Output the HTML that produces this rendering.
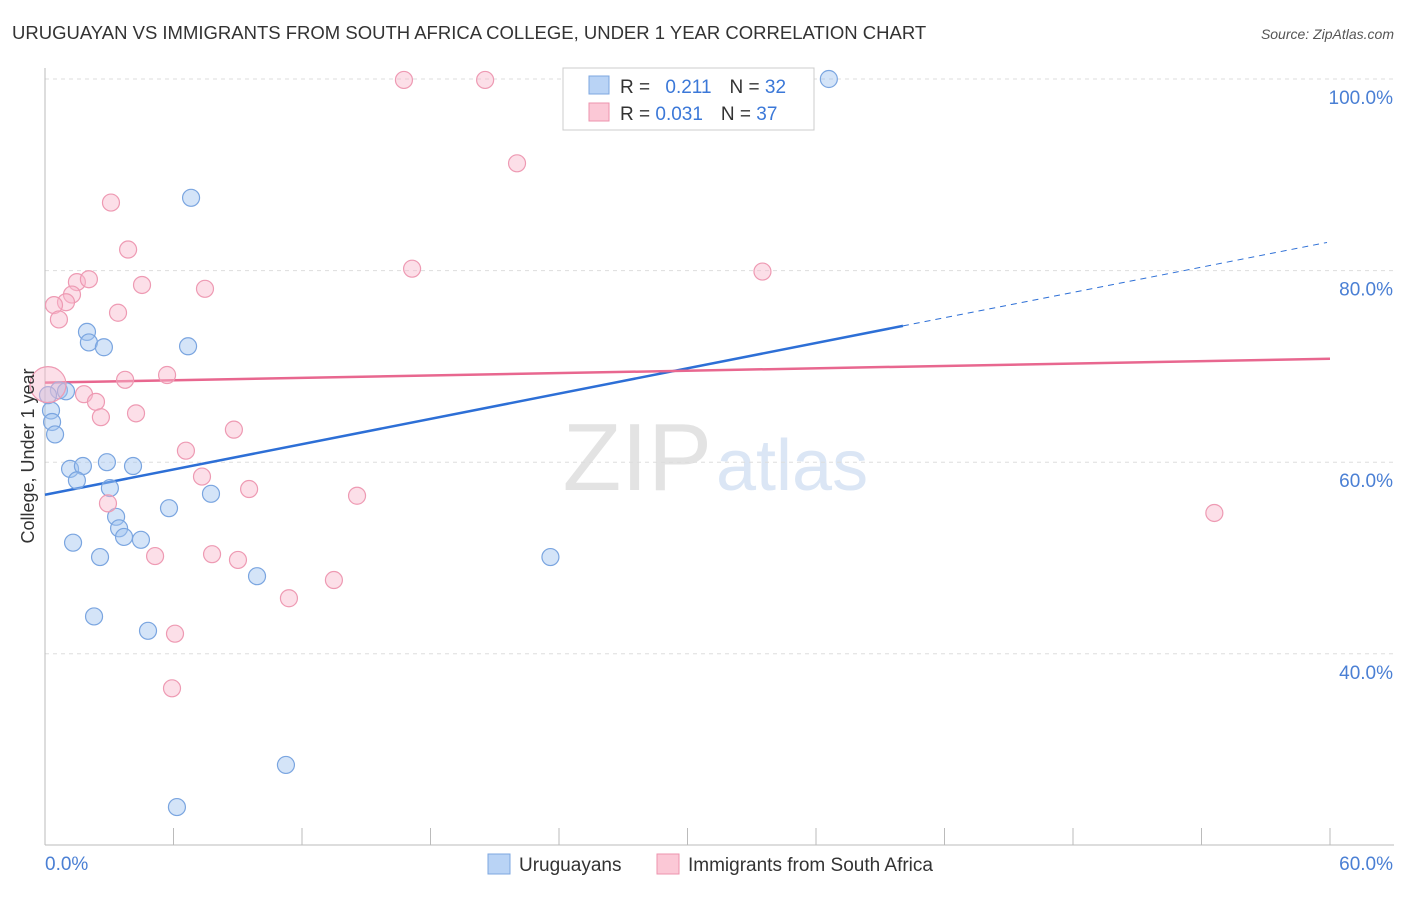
<!DOCTYPE html>
<html><head><meta charset="utf-8"><style>
body{margin:0;background:#fff;font-family:"Liberation Sans",sans-serif;}
svg text{font-family:"Liberation Sans",sans-serif;}
</style></head><body>
<svg id="chart" width="1406" height="892">
<text x="12" y="39" font-size="18.5" fill="#333">URUGUAYAN VS IMMIGRANTS FROM SOUTH AFRICA COLLEGE, UNDER 1 YEAR CORRELATION CHART</text>
<text x="1394" y="39" font-size="14" fill="#555" font-style="italic" text-anchor="end">Source: ZipAtlas.com</text>
<text x="712" y="490" font-size="96" fill="#e3e3e3" text-anchor="end" font-family="Liberation Serif">ZIP</text>
<text x="716" y="490" font-size="72" fill="#dbe6f5">atlas</text>
<g id="grid"></g><g id="axes"></g><g id="lines"></g><g id="points"></g>
<text transform="translate(34,456) rotate(-90)" font-size="18" fill="#333" text-anchor="middle">College, Under 1 year</text>
<text x="45" y="870" font-size="19" fill="#4a7fd4">0.0%</text>
<text x="1393" y="870" font-size="19" fill="#4a7fd4" text-anchor="end">60.0%</text>
<g>
<rect x="563" y="68" width="251" height="62" fill="#fff" stroke="#ccc"/>
<rect x="589" y="76" width="20" height="18" fill="#b9d3f5" stroke="#7da7e0"/>
<rect x="589" y="103" width="20" height="18" fill="#fbc8d6" stroke="#ee93ae"/>
<text x="620" y="93" font-size="19" fill="#333">R = <tspan fill="#3b78d8" dx="10">0.211</tspan><tspan dx="18" fill="#333">N = </tspan><tspan fill="#3b78d8">32</tspan></text>
<text x="620" y="120" font-size="19" fill="#333">R = <tspan fill="#3b78d8">0.031</tspan><tspan dx="18" fill="#333">N = </tspan><tspan fill="#3b78d8">37</tspan></text>
</g>
<g>
<rect x="488" y="854" width="22" height="20" fill="#b9d3f5" stroke="#7da7e0"/>
<text x="519" y="871" font-size="19" fill="#333">Uruguayans</text>
<rect x="657" y="854" width="22" height="20" fill="#fbc8d6" stroke="#ee93ae"/>
<text x="688" y="871" font-size="19" fill="#333">Immigrants from South Africa</text>
</g>
</svg>
<script>
const yTicks=[40,60,80,100];
const yTickLabels=["40.0%","60.0%","80.0%","100.0%"];
const xTicks=[0,6,12,18,24,30,36,42,48,54,60];
const blueX=[36.6,6.82,1.96,2.05,2.75,6.68,0.65,0.98,0.28,0.33,0.47,1.17,1.77,2.89,4.11,1.49,3.03,7.75,5.79,3.32,3.46,3.69,4.48,1.31,2.57,23.6,9.9,2.29,4.81,11.25,6.16,0.14];
const blueY=[100,87.6,73.6,72.5,72.0,72.1,67.5,67.4,65.4,64.2,62.9,59.3,59.6,60.0,59.6,58.1,57.3,56.7,55.2,54.3,53.1,52.2,51.9,51.6,50.1,50.1,48.1,43.9,42.4,28.4,24.0,67.0];
const pinkX=[16.76,20.55,22.04,3.08,3.88,17.14,33.5,1.49,2.05,4.53,7.47,1.26,0.98,0.42,3.41,0.65,5.70,3.74,0.14,1.82,2.38,2.61,4.25,8.82,6.58,7.33,9.53,2.94,14.57,54.6,5.14,7.80,9.01,13.49,11.39,6.07,5.93];
const pinkY=[99.9,99.9,91.2,87.1,82.2,80.2,79.9,78.8,79.1,78.5,78.1,77.5,76.7,76.4,75.6,74.9,69.1,68.6,68.1,67.1,66.3,64.7,65.1,63.4,61.2,58.5,57.2,55.7,56.5,54.7,50.2,50.4,49.8,47.7,45.8,42.1,36.4];
const blueTrend=[56.6,83.0];
const pinkTrend=[68.3,70.8];
const NS="http://www.w3.org/2000/svg";
const xs=v=>45+v/60*1285;
const ys=v=>79+(100-v)*9.58;
function mk(p,tag,a){const e=document.createElementNS(NS,tag);for(const k in a)e.setAttribute(k,a[k]);document.getElementById(p).appendChild(e);return e;}
yTicks.forEach((t,i)=>{
 const g=mk('grid','line',{x1:45,x2:1394,y1:ys(t),y2:ys(t),stroke:'#ddd','stroke-dasharray':'4,4'});
 
 
 const l=mk('grid','text',{x:1393,y:ys(t)+25,'font-size':19,fill:'#4a7fd4','text-anchor':'end'});
 l.textContent=yTickLabels[i];
 
 
});
const ax=mk('axes','line',{x1:45,x2:45,y1:68,y2:845,stroke:'#bbb'});


const bx=mk('axes','line',{x1:45,x2:1394,y1:845,y2:845,stroke:'#bbb'});


xTicks.forEach(t=>{
 const k=mk('axes','line',{x1:xs(t),x2:xs(t),y1:828,y2:845,stroke:'#bbb'});
 
 
});
function trend(tr,col,solidEnd,name){
 const f=v=>tr[0]+(tr[1]-tr[0])*v/60;
 const a=mk('lines','line',{x1:xs(0),y1:ys(f(0)),x2:xs(solidEnd),y2:ys(f(solidEnd)),stroke:col,'stroke-width':2.5});
 
 
 if(solidEnd<60){
  const b=mk('lines','line',{x1:xs(solidEnd),y1:ys(f(solidEnd)),x2:xs(59.86),y2:ys(f(59.86)),stroke:col,'stroke-width':1,'stroke-dasharray':'6,5'});
  
  
 }
}
trend(blueTrend,'#2d6fd6',40.06,'uruguayan-trendline');
trend(pinkTrend,'#e8678f',60,'south-africa-trendline');
blueX.forEach((v,i)=>{
 const c=mk('points','circle',{cx:xs(v),cy:ys(blueY[i]),r:8.5,fill:'rgba(160,195,240,0.45)',stroke:'#7aa5e0','stroke-width':1.2});
 
 
});
pinkX.forEach((v,i)=>{
 const c=mk('points','circle',{cx:xs(v),cy:ys(pinkY[i]),r:i==18?18:8.5,fill:'rgba(248,185,205,0.45)',stroke:'#ee9ab3','stroke-width':1.2});
 
 
});
</script>
</body></html>
